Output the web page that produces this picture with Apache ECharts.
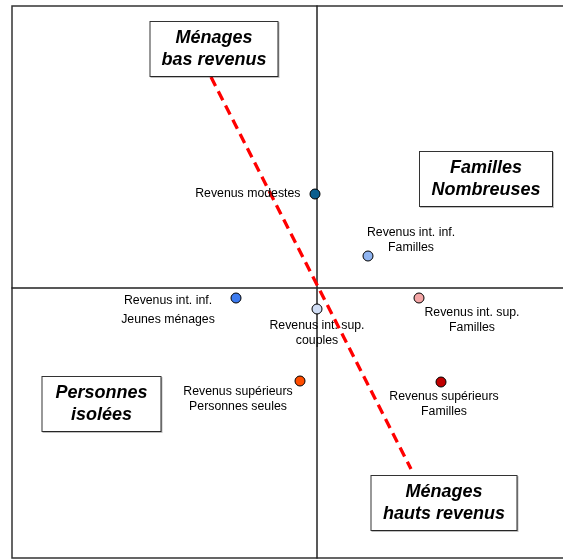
<!doctype html>
<html lang="fr">
<head>
    <meta charset="UTF-8">
    <script src="https://cdn.jsdelivr.net/npm/echarts@6/dist/echarts.min.js"></script>
    <style>
        html, body { margin: 0; padding: 0; background: #fff; }
    </style>
</head>
<body>
<div id="main" style="width: 563px; height: 559px;"></div>
<script type="text/javascript">
    // points du plan factoriel
    var names = [
        'Revenus modestes',
        'Revenus int. inf.\nFamilles',
        'Revenus int. inf.\nJeunes ménages',
        'Revenus int. sup.\ncouples',
        'Revenus int. sup.\nFamilles',
        'Revenus supérieurs\nPersonnes seules',
        'Revenus supérieurs\nFamilles'
    ];
    var xValues = [-0.02, 0.51, -0.81, 0.00, 1.02, -0.17, 1.24];
    var yValues = [0.94, 0.32, -0.10, -0.21, -0.10, -0.93, -0.94];

    // zones (encadrés)
    var zoneNames = ['Ménages\nbas revenus', 'Familles\nNombreuses', 'Personnes\nisolées', 'Ménages\nhauts revenus'];
    var zoneX = [-1.03, 1.69, -2.155, 1.27];
    var zoneY = [2.39, 1.09, -1.16, -2.15];

    // axe des revenus (pointillé rouge)
    var trendX = [-1.06, 0.94];
    var trendY = [2.11, -1.81];

    // styles
    var dotColors = ['#0b5e8e', '#8fb4f0', '#3d7bf0', '#d0ddf5', '#f4a6a6', '#ff4d00', '#c00000'];
    var labelOffsets = [null, [43, -16], [-68, 12], [0, 24], [53, 22], [-62, 18], [3, 22]];
    var labelLineHeights = [14, 14.5, 19, 15, 14.5, 15, 15];
    var zoneWidths = [129, 134, 120, 147];

    var font = 'Arial, "Liberation Sans", sans-serif';

    var pointData = names.map(function (n, i) {
        var lbl = {
            show: true,
            formatter: n,
            color: '#000',
            fontSize: 12.3,
            fontFamily: font,
            lineHeight: labelLineHeights[i]
        };
        if (labelOffsets[i]) {
            lbl.position = 'inside';
            lbl.offset = labelOffsets[i];
            lbl.align = 'center';
            lbl.verticalAlign = 'middle';
        } else {
            lbl.position = 'left';
            lbl.distance = 9;
        }
        return {
            name: n,
            value: [xValues[i], yValues[i]],
            itemStyle: { color: dotColors[i] },
            label: lbl
        };
    });

    var zoneData = zoneNames.map(function (n, i) {
        return {
            name: n,
            value: [zoneX[i], zoneY[i]],
            label: {
                show: true,
                position: 'inside',
                formatter: n,
                align: 'center',
                verticalAlign: 'middle',
                width: zoneWidths[i] - 14,
                height: 44,
                padding: [5, 6],
                fontSize: 18,
                fontWeight: 'bold',
                fontStyle: 'italic',
                fontFamily: font,
                lineHeight: 22,
                color: '#000',
                opacity: 1,
                backgroundColor: '#fff',
                borderColor: '#333',
                borderWidth: 1,
                shadowColor: 'rgba(0,0,0,0.25)',
                shadowOffsetX: 1,
                shadowOffsetY: 1,
                shadowBlur: 0
            }
        };
    });

    var trendData = trendX.map(function (x, i) { return [x, trendY[i]]; });

    var myChart = echarts.init(document.getElementById('main'));

    var option = {
        animation: false,
        backgroundColor: '#fff',
        grid: {
            show: true,
            left: 12,
            top: 6,
            width: 561,
            height: 552,
            outerBoundsMode: 'none',
            containLabel: false,
            borderColor: '#333',
            borderWidth: 1.5,
            backgroundColor: '#fff'
        },
        xAxis: {
            type: 'value',
            min: -3.05,
            max: 2.56,
            axisLine: { onZero: true, lineStyle: { color: '#222', width: 1.5 } },
            axisTick: { show: false },
            axisLabel: { show: false },
            splitLine: { show: false }
        },
        yAxis: {
            type: 'value',
            min: -2.70,
            max: 2.82,
            axisLine: { onZero: true, lineStyle: { color: '#222', width: 1.5 } },
            axisTick: { show: false },
            axisLabel: { show: false },
            splitLine: { show: false }
        },
        series: [
            {
                name: 'axe',
                type: 'line',
                data: trendData,
                symbol: 'none',
                z: 2,
                lineStyle: { color: '#ff0000', width: 3.3, type: [10, 6] }
            },
            {
                name: 'points',
                type: 'scatter',
                data: pointData,
                symbolSize: 10,
                z: 3,
                itemStyle: { borderColor: '#000', borderWidth: 1, opacity: 1 }
            },
            {
                name: 'zones',
                type: 'scatter',
                data: zoneData,
                symbolSize: 0,
                z: 4,
                itemStyle: { opacity: 1 }
            }
        ]
    };

    myChart.setOption(option);
</script>
</body>
</html>
